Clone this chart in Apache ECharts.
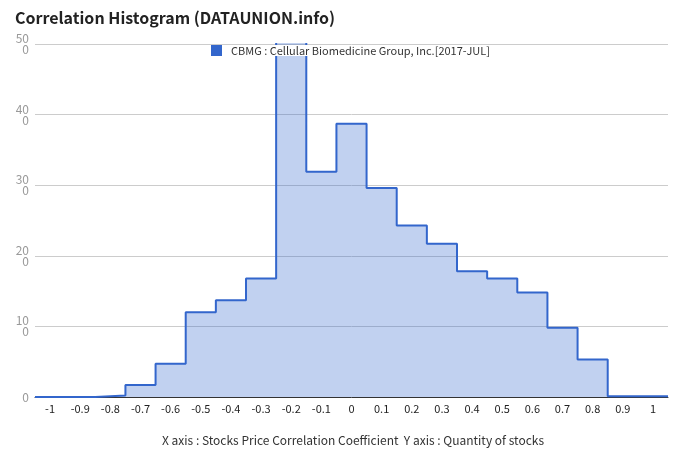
<!DOCTYPE html>
<html>
<head>
<meta charset="utf-8">
<script src="https://cdn.jsdelivr.net/npm/echarts@6/dist/echarts.min.js"></script>
<style>html,body{margin:0;padding:0;background:#fff}#c{width:680px;height:462px}</style>
</head>
<body>
<div id="c"></div>
<script>
var binCenters = [-1, -0.9, -0.8, -0.7, -0.6, -0.5, -0.4, -0.3, -0.2, -0.1, 0, 0.1, 0.2, 0.3, 0.4, 0.5, 0.6, 0.7, 0.8, 0.9, 1];
var counts = [0, 0, 2, 17, 47, 120, 137, 168, 560, 319, 387, 296, 243, 217, 178, 168, 148, 98, 53, 1, 1];
var xTickLabels = [-1, -0.9, -0.8, -0.7, -0.6, -0.5, -0.4, -0.3, -0.2, -0.1, 0, 0.1, 0.2, 0.3, 0.4, 0.5, 0.6, 0.7, 0.8, 0.9, 1];
var seriesName = 'CBMG : Cellular Biomedicine Group, Inc.[2017-JUL]';
var binWidth = 0.1;

var stepData = [];
for (var i = 0; i < binCenters.length; i++) {
  stepData.push([+(binCenters[i] - binWidth / 2).toFixed(2), counts[i]]);
}
stepData.push([+(binCenters[binCenters.length - 1] + binWidth / 2).toFixed(2), counts[counts.length - 1]]);

var chart = echarts.init(document.getElementById('c'), null, {renderer: 'canvas'});
chart.setOption({
  animation: false,
  textStyle: {fontFamily: '"Noto Sans CJK KR", "Noto Sans", sans-serif'},
  title: [{
    text: 'Correlation Histogram (DATAUNION.info)',
    left: 10, top: 5,
    textStyle: {fontSize: 16, fontWeight: 'bold', color: '#222', fontFamily: '"Noto Sans CJK KR", "Noto Sans", sans-serif'}
  }, {
    text: 'X axis : Stocks Price Correlation Coefficient  Y axis : Quantity of stocks',
    left: 348, top: 429, textAlign: 'center',
    textStyle: {fontSize: 12, fontWeight: 'normal', color: '#333', fontFamily: '"Noto Sans CJK KR", "Noto Sans", sans-serif'}
  }],
  legend: {
    left: 211, top: 45,
    padding: 0,
    itemWidth: 11, itemHeight: 11, itemGap: 0,
    backgroundColor: '#fff',
    icon: 'rect',
    textStyle: {fontSize: 11, color: '#333', padding: [0, 0, 0, 4]},
    data: [{name: seriesName, itemStyle: {color: '#3366cc'}}]
  },
  grid: {left: 35, right: 12, top: 44, bottom: 65, containLabel: false},
  xAxis: {
    type: 'value',
    min: -1.05, max: 1.05,
    axisLine: {show: true, lineStyle: {color: '#333', width: 1}},
    axisTick: {show: false},
    splitLine: {show: false},
    axisLabel: {
      customValues: xTickLabels,
      color: '#222', fontSize: 11, margin: 6,
      formatter: function (v) { return String(Number(v.toFixed(1))); }
    }
  },
  yAxis: {
    type: 'value',
    min: 0, max: 500, interval: 100,
    axisLine: {show: false},
    axisTick: {show: false},
    splitLine: {lineStyle: {color: '#cccccc', width: 1}},
    axisLabel: {
      color: '#999', fontSize: 12, margin: 6, align: 'right', lineHeight: 11,
      formatter: function (v) {
        var s = String(v);
        return s.length > 2 ? s.slice(0, 2) + '\n' + s.slice(2) : s;
      }
    }
  },
  series: [{
    name: seriesName,
    type: 'line',
    step: 'end',
    data: stepData,
    symbol: 'none',
    clip: true,
    lineStyle: {color: '#3366cc', width: 2},
    itemStyle: {color: '#3366cc'},
    areaStyle: {color: '#3366cc', opacity: 0.3}
  }]
});
</script>
</body>
</html>
